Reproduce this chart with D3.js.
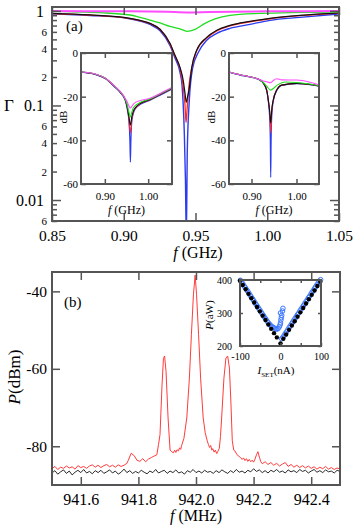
<!DOCTYPE html>
<html>
<head>
<meta charset="utf-8">
<script src="https://cdn.jsdelivr.net/npm/d3@7/dist/d3.min.js"></script>
<style>
body { margin: 0; background: #fff; }
svg { display: block; }
</style>
</head>
<body>
<div id="container"></div>
<script>
// ---------- panel (a): main, reflection coefficient (log scale) ----------
const mainBlueF = [0.85, 0.8765, 0.9002, 0.9113, 0.9183, 0.9253, 0.9322, 0.9357, 0.9392, 0.9406, 0.9422, 0.943, 0.9436, 0.9443, 0.9457, 0.9481, 0.952, 0.9578, 0.9648, 0.974, 0.988, 1.0019, 1.0228, 1.05];
const mainBlueG = [0.932, 0.895, 0.845, 0.78, 0.72, 0.615, 0.432, 0.318, 0.224, 0.164, 0.051, 0.0163, 0.004, 0.034, 0.114, 0.253, 0.365, 0.49, 0.579, 0.654, 0.72, 0.794, 0.854, 0.93];
const mainRedF = [0.85, 0.8765, 0.9002, 0.9113, 0.9183, 0.9253, 0.9322, 0.9357, 0.9392, 0.9413, 0.9427, 0.9434, 0.9441, 0.9455, 0.9474, 0.9508, 0.9578, 0.9648, 0.974, 0.988, 1.0019, 1.0228, 1.05];
const mainRedG = [0.938, 0.903, 0.85, 0.79, 0.733, 0.635, 0.448, 0.333, 0.246, 0.163, 0.1, 0.066, 0.089, 0.163, 0.25, 0.378, 0.518, 0.615, 0.695, 0.768, 0.826, 0.89, 0.948];
const mainBlackF = [0.85, 0.8765, 0.9002, 0.9113, 0.9183, 0.9253, 0.9322, 0.9357, 0.9392, 0.9415, 0.9427, 0.9436, 0.9444, 0.9455, 0.9474, 0.9508, 0.9578, 0.9648, 0.974, 0.988, 1.0019, 1.0228, 1.05];
const mainBlackG = [0.941, 0.907, 0.854, 0.794, 0.738, 0.64, 0.454, 0.339, 0.253, 0.182, 0.134, 0.108, 0.122, 0.146, 0.253, 0.383, 0.525, 0.623, 0.703, 0.775, 0.833, 0.896, 0.953];
const mainGreenF = [0.85, 0.8834, 0.9044, 0.9113, 0.9183, 0.9253, 0.9322, 0.9392, 0.9441, 0.9497, 0.9566, 0.9636, 0.974, 0.9949, 1.0228, 1.05];
const mainGreenG = [0.988, 0.957, 0.905, 0.854, 0.8, 0.747, 0.686, 0.646, 0.608, 0.638, 0.738, 0.823, 0.896, 0.941, 0.964, 0.976];
const mainPinkF = [0.85, 0.9, 0.93, 0.944, 0.96, 1.0, 1.05];
const mainPinkG = [0.995, 0.99, 0.98, 0.965, 0.975, 0.99, 0.995];

const fTicksGHz = [0.85, 0.90, 0.95, 1.00, 1.05];
const gammaMajor = [0.01, 0.1, 1];
const gammaMinor = [0.006, 0.007, 0.008, 0.009, 0.02, 0.03, 0.04, 0.05, 0.06, 0.07, 0.08, 0.09,
  0.2, 0.3, 0.4, 0.5, 0.6, 0.7, 0.8, 0.9];
const gammaMinorLabelled = [0.006, 0.02, 0.04, 0.06, 0.2, 0.4, 0.6];

// ---------- panel (a): insets, in dB ----------
const in1PinkF = [0.845, 0.8776, 0.9008, 0.924, 0.9357, 0.9473, 0.952, 0.9555, 0.959, 0.9624, 0.966, 0.9706, 0.9822, 1.0055, 1.0287, 1.055];
const in1PinkDb = [-8.7, -9.6, -11.5, -15.4, -17.6, -20.8, -22.6, -24.2, -25.2, -24.4, -23.4, -22.6, -21.8, -20.6, -18.4, -15.8];
const in1GreenF = in1PinkF;
const in1GreenDb = [-8.7, -9.6, -11.5, -15.5, -17.8, -21.3, -24, -27, -29.3, -27, -25, -24, -22.6, -21, -18.6, -16];
const in1BlackF = in1PinkF;
const in1BlackDb = [-8.7, -9.7, -11.6, -15.6, -17.9, -21.5, -25, -29, -33, -29, -26.5, -25, -23, -21.2, -18.8, -16.2];
const in1RedF = in1PinkF;
const in1RedDb = [-8.7, -9.7, -11.6, -15.6, -17.9, -21.5, -25, -30, -36.6, -30, -26.8, -25.2, -23.2, -21.3, -18.9, -16.3];
const in1BlueF = [0.845, 0.8776, 0.9008, 0.924, 0.9357, 0.9473, 0.952, 0.9555, 0.9578, 0.959, 0.9602, 0.9624, 0.966, 0.9706, 0.9822, 1.0055, 1.0287, 1.055];
const in1BlueDb = [-8.8, -9.8, -11.7, -15.8, -18.1, -21.8, -26, -31, -40, -50, -40, -31, -27.5, -25.5, -23.5, -21.5, -19.2, -16.5];

const in2PinkF = [0.85, 0.8744, 0.8989, 0.9189, 0.9262, 0.9338, 0.9427, 0.9484, 0.956, 0.9671, 1.0004, 1.03, 1.05];
const in2PinkDb = [-8.7, -10, -11, -12.2, -12.8, -13.2, -13.6, -12.6, -11.8, -12.3, -12.4, -13.4, -14.6];
const in2GreenF = [0.85, 0.8744, 0.8989, 0.9189, 0.9262, 0.9338, 0.9427, 0.951, 0.9589, 0.9744, 1.0004, 1.03, 1.05];
const in2GreenDb = [-8.7, -10, -11, -12.4, -13.5, -15.2, -17, -15.8, -14.5, -13.3, -13.5, -14.2, -15];
const in2BlackF = [0.85, 0.8744, 0.8989, 0.9189, 0.9262, 0.9338, 0.9373, 0.9405, 0.9427, 0.945, 0.9484, 0.956, 0.9671, 1.0004, 1.03, 1.05];
const in2BlackDb = [-8.7, -10, -11, -12.4, -13.7, -17, -21.5, -27, -32, -26, -21.5, -17, -14.7, -13.9, -14.4, -15.1];
const in2RedF = [0.85, 0.8744, 0.8989, 0.9189, 0.9262, 0.9338, 0.9373, 0.9405, 0.9415, 0.9427, 0.944, 0.945, 0.9484, 0.956, 0.9671, 1.0004, 1.03, 1.05];
const in2RedDb = [-8.7, -10, -11, -12.4, -13.7, -17, -21.5, -27, -30.5, -36.6, -30.5, -26.5, -21.5, -17, -14.7, -13.9, -14.4, -15.1];
const in2BlueF = [0.85, 0.8744, 0.8989, 0.9189, 0.9262, 0.9338, 0.9373, 0.9405, 0.9418, 0.9427, 0.9436, 0.945, 0.9484, 0.956, 0.9671, 1.0004, 1.03, 1.05];
const in2BlueDb = [-8.8, -10.1, -11.1, -12.5, -13.8, -17.2, -22, -30, -40, -57, -40, -29, -22, -17.2, -14.8, -14, -14.5, -15.2];

const insetFTicks = [0.90, 1.00];
const insetDbTicks = [0, -20, -40, -60];

// ---------- panel (b): spectrum ----------
const redFreq = [
  941.50, 941.51, 941.52, 941.53, 941.54, 941.55, 941.56, 941.57, 941.58, 941.59,
  941.60, 941.61, 941.62, 941.63, 941.64, 941.65, 941.66, 941.67, 941.68, 941.69,
  941.70, 941.71, 941.72, 941.73, 941.74, 941.75, 941.76,
  941.765, 941.775, 941.785, 941.795, 941.805, 941.815, 941.825, 941.835, 941.845, 941.855,
  941.864, 941.870, 941.875, 941.882, 941.887, 941.891, 941.896, 941.903, 941.910,
  941.916, 941.921, 941.926, 941.930, 941.934, 941.939, 941.943, 941.947, 941.950, 941.958,
  941.968, 941.977, 941.984, 941.991, 941.997, 942.002, 942.009, 942.016, 942.025, 942.032,
  942.039, 942.043, 942.047, 942.051, 942.055, 942.058, 942.063, 942.067, 942.072, 942.076,
  942.081, 942.085, 942.089, 942.097, 942.104, 942.110, 942.116, 942.121, 942.126, 942.131,
  942.135, 942.141, 942.147,
  942.155, 942.160, 942.165, 942.170, 942.175, 942.180, 942.185, 942.190, 942.195, 942.200,
  942.205, 942.210, 942.215, 942.220, 942.225, 942.230,
  942.24, 942.25, 942.26, 942.27, 942.28, 942.29, 942.30, 942.31, 942.32, 942.33,
  942.34, 942.35, 942.36, 942.37, 942.38, 942.39, 942.40, 942.41, 942.42, 942.43,
  942.44, 942.45, 942.46, 942.47, 942.48, 942.49, 942.50];
const redPow = [
  -85.8, -85.2, -86.0, -85.4, -85.7, -85.1, -85.6, -85.3, -85.9, -85.0,
  -85.5, -85.2, -85.7, -85.1, -84.8, -85.4, -84.9, -85.5, -85.0, -84.7,
  -85.3, -84.9, -85.4, -84.8, -85.2, -84.9, -84.4,
  -83.6, -81.8, -82.4, -83.6, -83.9, -83.2, -84.0, -83.3, -82.9, -82.5,
  -82.2, -79.5, -77.0, -64.2, -57.3, -56.7, -60.7, -72.7, -81.0,
  -81.4, -81.7, -81.0, -81.6, -80.9, -81.2, -80.4, -80.8, -79.8, -78.0,
  -72.7, -62.4, -51.2, -40.9, -35.8, -40.9, -51.2, -62.4, -72.7, -76.5,
  -78.6, -79.5, -80.3, -79.8, -81.0, -80.6, -81.5, -81.0, -81.9, -81.3,
  -80.5, -77.5, -72.7, -62.4, -57.2, -56.7, -59.8, -68.3, -78.6, -81.0,
  -81.2, -82.0, -82.5,
  -82.9, -83.4, -83.0, -83.7, -83.2, -83.9, -83.4, -84.0, -83.6, -84.1,
  -83.3, -82.2, -81.4, -82.8, -84.0, -84.5,
  -84.0, -84.7, -84.2, -84.9, -84.4, -85.1, -84.6, -84.2, -85.2, -84.7,
  -85.4, -84.9, -85.5, -85.0, -85.6, -85.1, -85.7, -85.3, -85.9, -85.4,
  -85.8, -85.2, -85.9, -85.5, -86.0, -85.6, -85.9];

const blackFreq = [
  941.50, 941.51, 941.52, 941.53, 941.54, 941.55, 941.56, 941.57, 941.58, 941.59,
  941.60, 941.61, 941.62, 941.63, 941.64, 941.65, 941.66, 941.67, 941.68, 941.69,
  941.70, 941.71, 941.72, 941.73, 941.74, 941.75, 941.76, 941.77, 941.78, 941.79,
  941.80, 941.81, 941.82, 941.83, 941.84, 941.85, 941.86, 941.87, 941.88, 941.89,
  941.90, 941.91, 941.92, 941.93, 941.94, 941.95, 941.96, 941.97, 941.98, 941.99,
  942.00, 942.01, 942.02, 942.03, 942.04, 942.05, 942.06, 942.07, 942.08, 942.09,
  942.10, 942.11, 942.12, 942.13, 942.14, 942.15, 942.16, 942.17, 942.18, 942.19,
  942.20, 942.21, 942.22, 942.23, 942.24, 942.25, 942.26, 942.27, 942.28, 942.29,
  942.30, 942.31, 942.32, 942.33, 942.34, 942.35, 942.36, 942.37, 942.38, 942.39,
  942.40, 942.41, 942.42, 942.43, 942.44, 942.45, 942.46, 942.47, 942.48, 942.49,
  942.50];
const blackPow = [
  -86.9, -86.3, -87.2, -86.6, -86.1, -87.0, -86.4, -87.4, -86.7, -86.2,
  -86.8, -86.0, -86.9, -86.5, -87.1, -86.3, -86.8, -86.2, -87.0, -86.6,
  -86.1, -86.9, -86.4, -87.2, -86.7, -85.9, -86.8, -86.3, -87.0, -86.5,
  -86.9, -86.2, -86.7, -87.1, -86.4, -86.8, -86.0, -86.9, -86.5, -86.2,
  -87.0, -86.4, -86.8, -86.1, -86.9, -86.6, -87.2, -86.3, -86.7, -86.0,
  -86.8, -86.4, -86.9, -86.2, -86.7, -86.5, -87.0, -86.3, -86.8, -86.1,
  -86.6, -87.0, -86.3, -86.8, -86.0, -86.7, -86.4, -86.9, -86.2, -86.6,
  -85.8, -86.5, -86.1, -86.8, -86.3, -86.9, -86.2, -86.6, -86.0, -86.7,
  -86.4, -86.9, -86.1, -86.6, -86.3, -86.8, -86.0, -86.5, -86.2, -86.9,
  -86.4, -86.0, -86.7, -86.3, -86.8, -86.1, -86.6, -86.4, -86.9, -86.2,
  -86.5];

const fTicksMHz = [941.6, 941.8, 942.0, 942.2, 942.4];
const powTicks = [-80, -60, -40];

// ---------- panel (b): inset P vs I_SET ----------
const isetBlack = [-100, -93, -86, -79, -72, -65, -58, -51, -44, -37, -30, -23, -16, -9, 0,
  7, 14, 21, 28, 35, 42, 49, 56, 63, 70, 77, 84, 91, 98];
const powBlack = [398, 385, 372, 358, 345, 332, 318, 305, 292, 279, 265, 252, 239, 226, 208,
  222, 235, 249, 262, 275, 289, 302, 315, 329, 342, 355, 368, 382, 395];
const isetBlue = [-99, -96, -93, -90, -87, -84, -81, -78, -75, -72, -69, -66, -63, -60, -57, -54,
  -51, -48, -45, -42, -39, -36, -33, -30, -27, -24, -21, -18, -15, -12, -9, -6,
  -3, -1, 0, 1, 2, 3, 0, 5, 6,
  3, 6, 9, 12, 15, 18, 21, 24, 27, 30, 33, 36, 39, 42, 45, 48, 51, 54, 57, 60, 63, 66,
  69, 72, 75, 78, 81, 84, 87, 90, 93, 96, 99];
const powBlue = [399, 394, 388, 382, 377, 371, 366, 360, 354, 348, 343, 337, 331, 325, 320, 314,
  309, 303, 297, 292, 286, 281, 275, 270, 266, 262, 258, 256, 254, 252, 251, 253,
  258, 264, 270, 279, 286, 293, 300, 306, 314,
  222, 226, 232, 238, 243, 249, 255, 261, 266, 272, 278, 283, 289, 295, 300, 306, 312, 317,
  323, 329, 334, 340, 346, 351, 357, 363, 368, 374, 380, 385, 391, 396, 401];
const isetTicks = [-100, -50, 0, 50, 100];
const isetLabelled = [-100, 0, 100];
const pawTicks = [200, 300, 400];

// ---------- drawing ----------
const serif = "'Liberation Serif', 'Times New Roman', serif";
const frameColor = '#555';
const colors = {blue: '#2b3bf0', red: '#ff2a2a', black: '#111', green: '#22dd22', pink: '#ff4cff'};

const svg = d3.select('#container')
  .append('svg')
  .attr('width', 354)
  .attr('height', 529)
  .attr('font-family', serif);
const defs = svg.append('defs');

const zip = (a, b) => a.map((v, i) => [v, b[i]]);

function addClip(id, x0, x1, y0, y1) {
  defs.append('clipPath').attr('id', id)
    .append('rect')
    .attr('x', x0).attr('y', y0)
    .attr('width', x1 - x0).attr('height', y1 - y0);
}

function axisGroup(gen, tx, ty, size) {
  const g = svg.append('g')
    .attr('transform', `translate(${tx},${ty})`)
    .call(gen);
  g.attr('font-family', serif).attr('font-size', size);
  g.select('.domain').remove();
  g.selectAll('.tick line').attr('stroke', frameColor).attr('stroke-width', 1.5);
  g.selectAll('.tick text').attr('fill', '#000').attr('font-family', serif);
  return g;
}

function frame(x0, x1, y0, y1) {
  svg.append('rect')
    .attr('x', x0).attr('y', y0)
    .attr('width', x1 - x0).attr('height', y1 - y0)
    .attr('fill', 'none')
    .attr('stroke', frameColor)
    .attr('stroke-width', 2);
}

// panel (a) main
const aL = 52, aR = 339, aT = 7, aB = 221;
const aX = d3.scaleLinear().domain([0.85, 1.05]).range([aL, aR]);
const aY = d3.scaleLog().domain([0.006, 1.1]).range([aB, aT]);
addClip('clipA', aL, aR, aT, aB);
const lineA = d3.line().x(d => aX(d[0])).y(d => aY(d[1])).curve(d3.curveMonotoneX);
const gCurvesA = svg.append('g').attr('clip-path', 'url(#clipA)');
[
  [mainBlueF, mainBlueG, colors.blue, 1.4],
  [mainRedF, mainRedG, colors.red, 1.3],
  [mainBlackF, mainBlackG, colors.black, 1.2],
  [mainGreenF, mainGreenG, colors.green, 1.3],
  [mainPinkF, mainPinkG, colors.pink, 2]
].forEach(([f, g, c, w]) => {
  gCurvesA.append('path')
    .datum(zip(f, g))
    .attr('d', lineA)
    .attr('fill', 'none')
    .attr('stroke', c)
    .attr('stroke-width', w);
});

axisGroup(d3.axisLeft(aY).tickValues(gammaMajor).tickSize(-9).tickPadding(8)
  .tickFormat(d => String(d)), aL, 0, 16);
axisGroup(d3.axisLeft(aY).tickValues(gammaMinor).tickSize(-5).tickPadding(5)
  .tickFormat(d => gammaMinorLabelled.includes(d)
    ? String(Math.round(d / 10 ** Math.floor(Math.log10(d)))) : ''), aL, 0, 11);
axisGroup(d3.axisRight(aY).tickValues(gammaMajor).tickSize(-9).tickFormat(''), aR, 0, 10);
axisGroup(d3.axisRight(aY).tickValues(gammaMinor).tickSize(-5).tickFormat(''), aR, 0, 10);
axisGroup(d3.axisBottom(aX).tickValues(fTicksGHz).tickSize(-8).tickPadding(9)
  .tickFormat(d3.format('.2f')), 0, aB, 15.5);
axisGroup(d3.axisTop(aX).tickValues(fTicksGHz).tickSize(-8).tickFormat(''), 0, aT, 10);
frame(aL, aR, aT, aB);

svg.append('text').attr('x', 9).attr('y', 111).attr('text-anchor', 'middle')
  .attr('font-size', 17).text('Γ');
svg.append('text').attr('x', 66).attr('y', 31).attr('font-size', 15).text('(a)');
const tA = svg.append('text').attr('x', 198).attr('y', 258).attr('text-anchor', 'middle')
  .attr('font-size', 16);
tA.append('tspan').attr('font-style', 'italic').text('f');
tA.append('tspan').text(' (GHz)');

// panel (a) insets
function dbInset(id, left, right, fDomain, curves) {
  const top = 53, bottom = 184;
  const x = d3.scaleLinear().domain(fDomain).range([left, right]);
  const y = d3.scaleLinear().domain([-60, 0]).range([bottom, top]);
  svg.append('rect').attr('x', left).attr('y', top)
    .attr('width', right - left).attr('height', bottom - top).attr('fill', '#fff');
  addClip(id, left, right, top, bottom);
  const line = d3.line().x(d => x(d[0])).y(d => y(d[1])).curve(d3.curveMonotoneX);
  const g = svg.append('g').attr('clip-path', `url(#${id})`);
  curves.forEach(([f, v, c, w]) => {
    g.append('path').datum(zip(f, v)).attr('d', line)
      .attr('fill', 'none').attr('stroke', c).attr('stroke-width', w);
  });
  axisGroup(d3.axisBottom(x).tickValues(insetFTicks).tickSize(-5).tickPadding(8)
    .tickFormat(d3.format('.2f')), 0, bottom, 11);
  axisGroup(d3.axisTop(x).tickValues(insetFTicks).tickSize(-5).tickFormat(''), 0, top, 10);
  axisGroup(d3.axisLeft(y).tickValues(insetDbTicks).tickSize(-5).tickPadding(3)
    .tickFormat(d => String(d)), left, 0, 11);
  axisGroup(d3.axisRight(y).tickValues(insetDbTicks).tickSize(-5).tickFormat(''), right, 0, 10);
  frame(left, right, top, bottom);
  svg.append('text')
    .attr('transform', `translate(${left - 14},117) rotate(-90)`)
    .attr('text-anchor', 'middle').attr('font-size', 11).text('dB');
  const t = svg.append('text').attr('x', (left + right) / 2).attr('y', 214)
    .attr('text-anchor', 'middle').attr('font-size', 12);
  t.append('tspan').attr('font-style', 'italic').text('f');
  t.append('tspan').text(' (GHz)');
}

dbInset('clipI1', 81, 172, [0.845, 1.055], [
  [in1BlueF, in1BlueDb, colors.blue, 1.2],
  [in1RedF, in1RedDb, colors.red, 1.1],
  [in1BlackF, in1BlackDb, colors.black, 1.1],
  [in1GreenF, in1GreenDb, colors.green, 1.1],
  [in1PinkF, in1PinkDb, colors.pink, 1.1]
]);
dbInset('clipI2', 229, 319, [0.85, 1.05], [
  [in2BlueF, in2BlueDb, colors.blue, 1.2],
  [in2RedF, in2RedDb, colors.red, 1.1],
  [in2BlackF, in2BlackDb, colors.black, 1.1],
  [in2GreenF, in2GreenDb, colors.green, 1.1],
  [in2PinkF, in2PinkDb, colors.pink, 1.1]
]);

// panel (b) spectrum
const bL = 52, bR = 340, bT = 272, bB = 485;
const bX = d3.scaleLinear().domain([941.5, 942.5]).range([bL, bR]);
const bY = d3.scaleLinear().domain([-90, -35]).range([bB, bT]);
addClip('clipB', bL, bR, bT, bB);
const lineB = d3.line().x(d => bX(d[0])).y(d => bY(d[1]));
const gCurvesB = svg.append('g').attr('clip-path', 'url(#clipB)');
gCurvesB.append('path').datum(zip(blackFreq, blackPow)).attr('d', lineB)
  .attr('fill', 'none').attr('stroke', colors.black).attr('stroke-width', 0.9);
gCurvesB.append('path').datum(zip(redFreq, redPow)).attr('d', lineB)
  .attr('fill', 'none').attr('stroke', '#ff3b3b').attr('stroke-width', 1);

axisGroup(d3.axisLeft(bY).tickValues(powTicks).tickSize(-8).tickPadding(5)
  .tickFormat(d => String(d)), bL, 0, 15.5);
axisGroup(d3.axisRight(bY).tickValues(powTicks).tickSize(-8).tickFormat(''), bR, 0, 10);
axisGroup(d3.axisBottom(bX).tickValues(fTicksMHz).tickSize(-8).tickPadding(9)
  .tickFormat(d3.format('.1f')), 0, bB, 16);
axisGroup(d3.axisTop(bX).tickValues(fTicksMHz).tickSize(-8).tickFormat(''), 0, bT, 10);
frame(bL, bR, bT, bB);

svg.append('text').attr('x', 64).attr('y', 307).attr('font-size', 15).text('(b)');
const tP = svg.append('text').attr('transform', 'translate(20,377) rotate(-90)')
  .attr('text-anchor', 'middle').attr('font-size', 17);
tP.append('tspan').attr('font-style', 'italic').text('P');
tP.append('tspan').text('(dBm)');
const tB = svg.append('text').attr('x', 196).attr('y', 521).attr('text-anchor', 'middle')
  .attr('font-size', 16);
tB.append('tspan').attr('font-style', 'italic').text('f');
tB.append('tspan').text(' (MHz)');

// panel (b) inset
const iL = 240, iR = 321, iT = 280, iB = 346;
const iX = d3.scaleLinear().domain([-100, 100]).range([iL, iR]);
const iY = d3.scaleLinear().domain([200, 400]).range([iB, iT]);
svg.append('rect').attr('x', iL).attr('y', iT)
  .attr('width', iR - iL).attr('height', iB - iT).attr('fill', '#fff');
svg.append('g').selectAll('circle')
  .data(zip(isetBlue, powBlue))
  .enter()
  .append('circle')
  .attr('cx', d => iX(d[0]))
  .attr('cy', d => iY(d[1]))
  .attr('r', 2.3)
  .attr('fill', 'none')
  .attr('stroke', '#3d78ff')
  .attr('stroke-width', 1);
svg.append('g').selectAll('circle')
  .data(zip(isetBlack, powBlack))
  .enter()
  .append('circle')
  .attr('cx', d => iX(d[0]))
  .attr('cy', d => iY(d[1]))
  .attr('r', 2.2)
  .attr('fill', '#000');

axisGroup(d3.axisBottom(iX).tickValues(isetTicks).tickSize(-3).tickPadding(7)
  .tickFormat(d => isetLabelled.includes(d) ? String(d) : ''), 0, iB, 10);
axisGroup(d3.axisTop(iX).tickValues(isetTicks).tickSize(-3).tickFormat(''), 0, iT, 10);
axisGroup(d3.axisLeft(iY).tickValues(pawTicks).tickSize(-3).tickPadding(8)
  .tickFormat(d => String(d)), iL, 0, 10);
axisGroup(d3.axisRight(iY).tickValues(pawTicks).tickSize(-3).tickFormat(''), iR, 0, 10);
frame(iL, iR, iT, iB);

const tPa = svg.append('text').attr('transform', 'translate(213,315) rotate(-90)')
  .attr('text-anchor', 'middle').attr('font-size', 11);
tPa.append('tspan').attr('font-style', 'italic').text('P');
tPa.append('tspan').text('(aW)');
const tI = svg.append('text').attr('x', 276).attr('y', 374).attr('text-anchor', 'middle')
  .attr('font-size', 11);
tI.append('tspan').attr('font-style', 'italic').text('I');
tI.append('tspan').attr('font-size', 7).attr('dy', 3).text('SET');
tI.append('tspan').attr('dy', -3).text('(nA)');
</script>
</body>
</html>
